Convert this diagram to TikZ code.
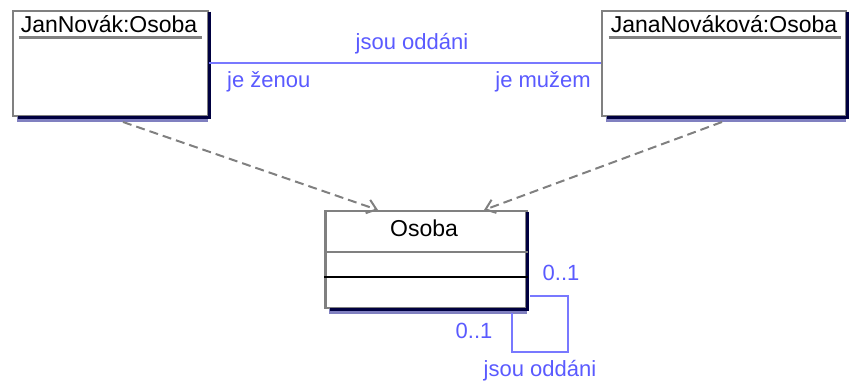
\documentclass[tikz,border=0pt]{standalone}
\usepackage{fontspec}
\setmainfont{Liberation Sans}
\usetikzlibrary{arrows.meta,backgrounds,calc}
\definecolor{umlgray}{RGB}{128,128,128}
\definecolor{navyedge}{RGB}{0,0,64}
\definecolor{shadowblue}{RGB}{128,128,192}
\definecolor{assoc}{RGB}{120,120,255}
\definecolor{labelblue}{RGB}{90,90,255}
\tikzset{
  umlbox/.style={draw=umlgray, line width=2.6pt, fill=white, inner sep=0pt},
  titletext/.style={font=\fontsize{23}{27}\selectfont, text=black, inner sep=0pt, anchor=base},
  lbl/.style={font=\fontsize{22}{26}\selectfont, text=labelblue, inner sep=0pt},
  assocline/.style={draw=assoc, line width=2.6pt},
  loopline/.style={draw=assoc, line width=2.3pt},
  depline/.style={draw=umlgray, line width=2pt, dash pattern=on 9pt off 5pt, -{Straight Barb[length=9pt,width=14pt,line width=2pt]}},
  edgeline/.style={draw=navyedge, line width=3.2pt},
  sepgray/.style={draw=umlgray, line width=2.4pt},
  sepblack/.style={draw=black, line width=2.4pt}
}
\begin{document}
\begin{tikzpicture}[x=1pt,y=-1pt]
\useasboundingbox (0,0) rectangle (850,385);
% boxes
\node[umlbox, minimum width=195pt, minimum height=105pt] (jan) at (110.5,63.5) {};
\node[umlbox, minimum width=244pt, minimum height=105pt] (jana) at (724,63.5) {};
\node[umlbox, minimum width=201pt, minimum height=97pt] (osoba) at (426,259.5) {};
\begin{scope}[on background layer]
  \foreach \b in {jan,jana,osoba}{
    \fill[shadowblue] ($(\b.north east)+(-1,3)$) rectangle ($(\b.south west)+(5,5)$);
  }
\end{scope}
\foreach \b in {jan,jana,osoba}{
  \draw[edgeline] ($(\b.north east)+(0,2)$) -- (\b.south east) -- ($(\b.south west)+(6,0)$);
}
% titles
\node[titletext] (jant) at (109,33) {JanNovák:Osoba};
\node[titletext] (janat) at (724,33) {JanaNováková:Osoba};
\node[titletext] (osobat) at (424,236) {Osoba};
\draw[sepgray] ($(jan.north west)+(7,28)$) coordinate (u1a) -- ($(jan.north east)+(-7,28)$) coordinate (u1b);
\draw[sepgray] ($(jana.north west)+(8,28)$) coordinate (u2a) -- ($(jana.north east)+(-6,28)$) coordinate (u2b);
% compartments
\draw[sepgray] ($(osoba.north west)+(0,42)$) coordinate (s1a) -- ($(osoba.north east)+(0,42)$) coordinate (s1b);
\draw[sepblack] ($(osoba.north west)+(0,67)$) coordinate (s2a) -- ($(osoba.north east)+(0,67)$) coordinate (s2b);
% association
\draw[assocline] (jan.east |- 0,63) coordinate (a1) -- (jana.west |- 0,63) coordinate (a2);
\node[lbl] (asl) at (412,44) {jsou oddáni};
\node[lbl, anchor=west] (roleA) at (227,82) {je ženou};
\node[lbl, anchor=east] (roleB) at (591,82) {je mužem};
% dependencies
\coordinate (d1s) at (123,122);
\coordinate (d1e) at (378,210);
\coordinate (d2s) at (722,122);
\coordinate (d2e) at (484,210);
\draw[depline] (d1s) -- (d1e);
\draw[depline] (d2s) -- (d2e);
% self association
\coordinate (l1) at (530,296);
\coordinate (l2) at (568,296);
\coordinate (l3) at (568,352);
\coordinate (l4) at (512,352);
\coordinate (l5) at (512,313);
\draw[loopline] (l1) -- (l2) -- (l3) -- (l4) -- (l5);
\node[lbl] (m1) at (561,273) {0..1};
\node[lbl] (m2) at (474,331) {0..1};
\node[lbl] (asl2) at (540,371) {jsou oddáni};
\end{tikzpicture}
\end{document}
